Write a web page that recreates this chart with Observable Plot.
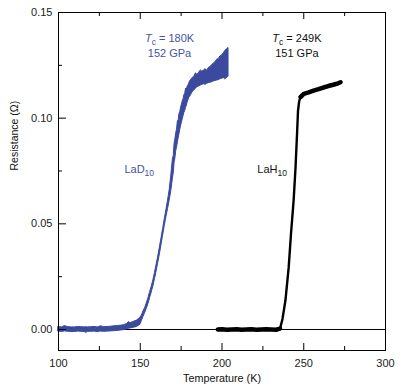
<!DOCTYPE html>
<html>
<head>
<meta charset="utf-8">
<script src="https://cdn.jsdelivr.net/npm/d3@7"></script>
<script src="https://cdn.jsdelivr.net/npm/@observablehq/plot@0.6"></script>
<style>
  body { margin: 0; background: white; }
</style>
</head>
<body>
<div id="chart"></div>
<script>
const ladTemp = [
  100,102,104,106,108,110,112,114,116,117,118,120,122,124,126,128,130,132,134,136,
  138,140,142,143,144,146,148,150,151,152,153,154,155,156,157,158,159,160,161,162,
  163,164,165,166,167,168,169,170,170.5,171,171.5,172,172.5,173,173.5,174,174.5,175,175.5,176,
  176.5,177,177.5,178,178.5,179,179.5,180,180.5,181,182,183,184,185,186,187,188,189,190,191,
  192,193,194,195,196,197,198,199,200,201,202,203,204
];
const ladLow = [
  -0.0010,-0.0012,-0.0009,-0.0011,-0.0012,-0.0012,-0.0010,-0.0011,-0.0012,-0.0016,
  -0.0011,-0.0011,-0.0010,-0.0012,-0.0010,-0.0011,-0.0010,-0.0009,-0.0008,-0.0007,
  -0.0005,-0.0003,0.0001,0.0003,0.0005,0.0008,0.0012,0.0022,0.0040,0.0060,
  0.0078,0.0098,0.0120,0.0148,0.0175,0.0203,0.0238,0.0275,0.0315,0.0355,
  0.0400,0.0445,0.0490,0.0532,0.0570,0.0610,0.0655,0.0715,0.0740,0.0790,
  0.0810,0.0845,0.0860,0.0885,0.0905,0.0925,0.0945,0.0965,0.0980,0.0995,
  0.1010,0.1025,0.1035,0.1048,0.1060,0.1075,0.1085,0.1098,0.1100,0.1108,
  0.1122,0.1132,0.1138,0.1148,0.1150,0.1154,0.1158,0.1160,0.1158,0.1163,
  0.1166,0.1168,0.1170,0.1174,0.1176,0.1178,0.1180,0.1184,0.1186,0.1190,
  0.1184,0.1190,0.1196
];
const ladHigh = [
  0.0012,0.0010,0.0016,0.0011,0.0010,0.0010,0.0012,0.0011,0.0010,0.0011,
  0.0010,0.0011,0.0012,0.0010,0.0015,0.0011,0.0012,0.0013,0.0015,0.0016,
  0.0018,0.0020,0.0026,0.0035,0.0030,0.0036,0.0042,0.0055,0.0066,0.0086,
  0.0102,0.0124,0.0148,0.0176,0.0202,0.0232,0.0268,0.0306,0.0345,0.0388,
  0.0432,0.0476,0.0522,0.0566,0.0610,0.0660,0.0730,0.0810,0.0820,0.0880,
  0.0900,0.0930,0.0945,0.0985,0.0990,0.1020,0.1030,0.1050,0.1065,0.1080,
  0.1090,0.1110,0.1115,0.1140,0.1135,0.1150,0.1155,0.1165,0.1175,0.1180,
  0.1190,0.1195,0.1212,0.1205,0.1215,0.1226,0.1220,0.1226,0.1232,0.1224,
  0.1238,0.1242,0.1252,0.1258,0.1266,0.1276,0.1280,0.1292,0.1296,0.1306,
  0.1318,0.1326,0.1332
];

// LaH10 (black) trace
const lahTemp = [
  197.4,200,203,206,209,212,215,218,221,224,227,230,233,235.5,
  237,238.8,240.8,242.2,243.8,245,245.9,246.5,247.2,248,250,
  253,256,259,262,265,268,271,272.5
];
const lahRes = [
  0.0000,0.0001,-0.0001,0.0000,0.0001,-0.0001,0.0000,0.0001,-0.0001,0.0000,0.0001,0.0000,-0.0001,0.0004,
  0.0050,0.0137,0.0295,0.0453,0.0610,0.0770,0.0926,0.1036,0.1080,0.1100,0.1115,
  0.1122,0.1130,0.1137,0.1145,0.1152,0.1158,0.1165,0.1170
];

// Axis ticks
const xMajor = [100, 150, 200, 250, 300];
const xMinor = [125, 175, 225, 275];
const yMajor = [0, 0.05, 0.10, 0.15];
const yMinor = [0.025, 0.075, 0.125];

// Annotations
const annTemp = [167.9, 167.9, 245.8, 245.8];
const annRes = [0.1377, 0.1306, 0.1377, 0.1306];
const annText = ["Tc = 180K", "152 GPa", "Tc = 249K", "151 GPa"];
const annColor = ["#4652a3", "#4652a3", "#111", "#111"];

const labTemp = [140.3, 221.6];
const labRes = [0.0755, 0.0755];
const labText = ["LaD10", "LaH10"];
const labColor = ["#4652a3", "#111"];

const lad = ladTemp.map((T, i) => ({T, lo: ladLow[i], hi: ladHigh[i]}));
const lah = lahTemp.map((T, i) => ({T, R: lahRes[i]}));
const ann = annText.map((t, i) => ({T: annTemp[i], R: annRes[i], t, c: annColor[i]}));
const lab = labText.map((t, i) => ({T: labTemp[i], R: labRes[i], t, c: labColor[i]}));

const W = 401, H = 391, mL = 58, mR = 16, mT = 12, mB = 41;
const fw = W - mL - mR, fh = H - mT - mB;
const blue = "#3b4a9e";

const chart = Plot.plot({
  width: W, height: H,
  marginLeft: mL, marginRight: mR, marginTop: mT, marginBottom: mB,
  style: {fontFamily: "'Liberation Sans', Arial, sans-serif", fontSize: "11px", background: "white", color: "#222"},
  x: {domain: [100, 300]},
  y: {domain: [-0.00994, 0.15]},
  marks: [
    Plot.ruleY([0], {stroke: "black", strokeWidth: 1}),
    Plot.areaY(lad, {x: "T", y1: "lo", y2: "hi", fill: blue, stroke: blue, strokeWidth: 1, strokeLinejoin: "round", curve: "linear"}),
    Plot.line(lah, {x: "T", y: "R", stroke: "black", strokeWidth: 2.4, strokeLinejoin: "round", strokeLinecap: "round"}),
    Plot.line(lah.filter(d => d.T <= 235.5), {x: "T", y: "R", stroke: "black", strokeWidth: 4.5, strokeLinecap: "round"}),
    Plot.line(lah.filter(d => d.T >= 248), {x: "T", y: "R", stroke: "black", strokeWidth: 4.5, strokeLinecap: "round"}),
    Plot.frame({stroke: "black", strokeWidth: 1}),
    // inward ticks: bottom
    Plot.tickX(xMajor, {x: d => d, insetTop: fh - 7, stroke: "black"}),
    Plot.tickX(xMinor, {x: d => d, insetTop: fh - 4, stroke: "black"}),
    // inward ticks: top
    Plot.tickX(xMajor, {x: d => d, insetBottom: fh - 7, stroke: "black"}),
    Plot.tickX(xMinor, {x: d => d, insetBottom: fh - 4, stroke: "black"}),
    // inward ticks: left
    Plot.tickY(yMajor, {y: d => d, insetRight: fw - 8, stroke: "black"}),
    Plot.tickY(yMinor, {y: d => d, insetRight: fw - 4, stroke: "black"}),
    Plot.axisX({ticks: xMajor, tickSize: 0, tickPadding: 9, label: null, fontSize: 11}),
    Plot.axisY({ticks: yMajor, tickSize: 0, tickPadding: 6, tickFormat: d3.format(".2f"), label: null, fontSize: 11}),
    Plot.text(["Temperature (K)"], {frameAnchor: "bottom", dy: 31, text: d => d, fontSize: 10.8, fill: "#111"}),
    Plot.text(["Resistance (Ω)"], {frameAnchor: "left", dx: -44, dy: -11, rotate: -90, text: d => d, fontSize: 10.5, fill: "#111"}),
    Plot.text(ann, {x: "T", y: "R", text: "t", fill: "c", fontSize: 11, textAnchor: "middle"}),
    Plot.text(lab, {x: "T", y: "R", text: "t", fill: "c", fontSize: 11, textAnchor: "start"})
  ]
});

// Rich text: italic T with subscript c, and subscript 10
const NS = "http://www.w3.org/2000/svg";
function span(txt, attrs) {
  const s = document.createElementNS(NS, "tspan");
  s.textContent = txt;
  for (const k in attrs) s.setAttribute(k, attrs[k]);
  return s;
}
for (const t of chart.querySelectorAll("text")) {
  const s = t.textContent;
  let m;
  if ((m = s.match(/^Tc( = .*)$/))) {
    t.textContent = "";
    t.appendChild(span("T", {"font-style": "italic"}));
    t.appendChild(span("c", {"font-size": "8.5", dy: "3"}));
    t.appendChild(span(m[1], {dy: "-3"}));
  } else if ((m = s.match(/^(La[DH])10$/))) {
    t.textContent = "";
    t.appendChild(span(m[1], {}));
    t.appendChild(span("10", {"font-size": "8.5", dy: "3"}));
  }
}

document.getElementById("chart").appendChild(chart);
</script>
</body>
</html>
